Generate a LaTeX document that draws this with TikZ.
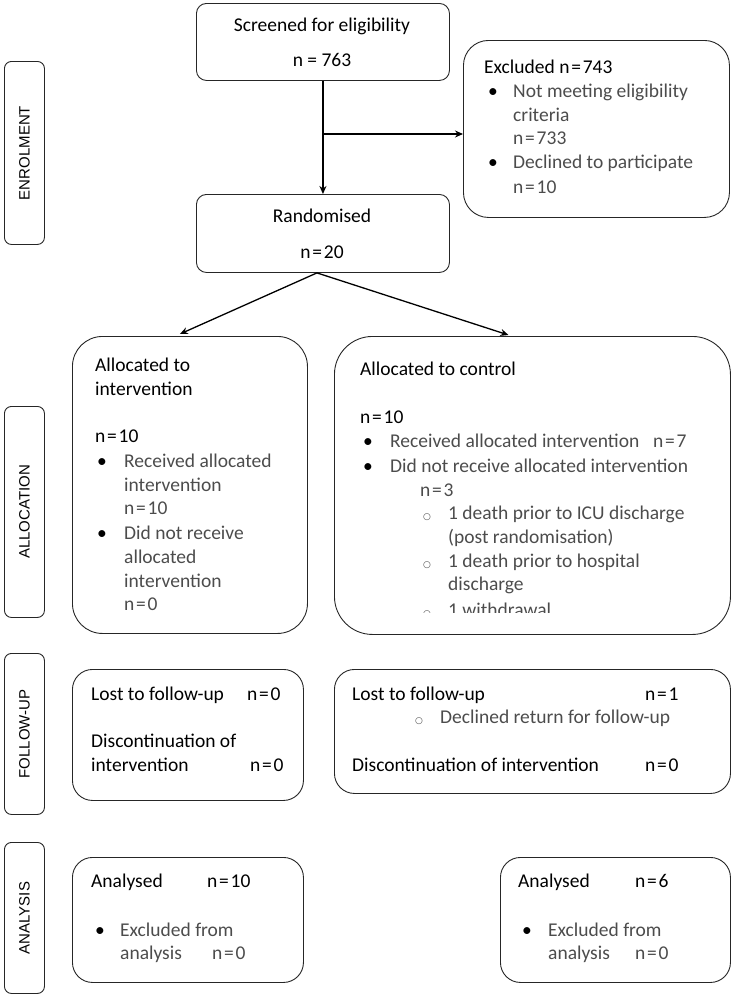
\documentclass[tikz,border=0pt]{standalone}
\usepackage{fontspec}
\setmainfont{Carlito}
\newfontfamily\lblfont{Liberation Sans}
\newfontfamily\symfont{DejaVu Sans}
\newcommand\myeq{\kern1.8pt=\kern1.8pt}
\usetikzlibrary{arrows.meta,calc}
\begin{document}
\begin{tikzpicture}[x=1pt,y=-1pt,
 box/.style={draw=black!85, line width=0.9pt, inner sep=0pt, anchor=north west},
 side/.style={box, rounded corners=7pt, minimum width=40pt},
 hd/.style={anchor=base west, inner sep=0pt, font=\fontsize{19.5}{22}\selectfont, text=black},
 hdc/.style={hd, anchor=base},
 tx/.style={anchor=base west, inner sep=0pt, font=\fontsize{19.5}{22}\selectfont, text=black!70},
 bul/.style={anchor=base west, inner sep=0pt, font=\fontsize{19.5}{22}\selectfont, text=black},
 circ/.style={anchor=base west, inner sep=0pt, font=\symfont\fontsize{9}{10}\selectfont, text=black!70},
 arr/.style={-{Stealth[length=8pt,width=7pt]}, line width=1.3pt},
 sidetext/.style={font=\lblfont\fontsize{15}{17}\selectfont, rotate=90, inner sep=0pt}]
\useasboundingbox (0,0) rectangle (732,996);

% side labels
\node[side, minimum height=183pt] (lenr) at (4,61) {};
\node[sidetext] (tenr) at (lenr.center) {ENROLMENT};
\node[side, minimum height=211pt] (lalc) at (4,406) {};
\node[sidetext] (talc) at (lalc.center) {ALLOCATION};
\node[side, minimum height=161pt] (lfol) at (4,653) {};
\node[sidetext] (tfol) at (lfol.center) {FOLLOW-UP};
\node[side, minimum height=151pt] (lana) at (4,842) {};
\node[sidetext] (tana) at (lana.center) {ANALYSIS};

% boxes
\node[box, rounded corners=10pt, minimum width=253pt, minimum height=77pt] (scr) at (196,3) {};
\node[box, rounded corners=25pt, minimum width=266pt, minimum height=177pt] (exc) at (463,40) {};
\node[box, rounded corners=10pt, minimum width=253pt, minimum height=78pt] (rnd) at (196,194) {};
\node[box, rounded corners=30pt, minimum width=235pt, minimum height=297pt] (int) at (72,336) {};
\node[box, rounded corners=38pt, minimum width=396pt, minimum height=298pt] (ctl) at (334,336) {};
\node[box, rounded corners=20pt, minimum width=231pt, minimum height=131pt] (fl) at (72,669) {};
\node[box, rounded corners=20pt, minimum width=396pt, minimum height=124pt] (fr) at (334,669) {};
\node[box, rounded corners=20pt, minimum width=231pt, minimum height=125pt] (al) at (72,857) {};
\node[box, rounded corners=20pt, minimum width=230pt, minimum height=125pt] (ar) at (500,857) {};

% arrows
\draw[arr] (scr.south) -- (rnd.north);
\coordinate (br) at (323,134);
\draw[arr] (br) -- (exc.west |- br);
\draw[arr] ([xshift=-6pt]rnd.south) -- ([xshift=-10pt,yshift=2pt]int.north);
\draw[arr] ([xshift=-6pt]rnd.south) -- ([xshift=-24pt,yshift=1pt]ctl.north);

% screened / randomised
\node[hdc] (s1) at (322,31) {Screened for eligibility};
\node[hdc] (s2) at (322,66) {n = 763};
\node[hdc] (r1) at (322,222) {Randomised};
\node[hdc] (r2) at (322,258) {n\myeq 20};

% excluded
\node[hd] (e0) at (484,73) {Excluded n\myeq 743};
\node[bul] (eb1) at (488,97) {•};
\node[tx] (e1) at (513,97) {Not meeting eligibility};
\node[tx] (e2) at (513,121) {criteria};
\node[tx] (e3) at (513,144) {n\myeq 733};
\node[bul] (eb2) at (488,168) {•};
\node[tx] (e4) at (513,168) {Declined to participate};
\node[tx] (e5) at (513,193) {n\myeq 10};

% intervention
\node[hd] (i0) at (95,371) {Allocated to};
\node[hd] (i1) at (95,395) {intervention};
\node[hd] (i2) at (95,442) {n\myeq 10};
\node[bul] (ib1) at (97,467) {•};
\node[tx] (i3) at (124,467) {Received allocated};
\node[tx] (i4) at (124,491) {intervention};
\node[tx] (i5) at (124,514) {n\myeq 10};
\node[bul] (ib2) at (97,539) {•};
\node[tx] (i6) at (124,539) {Did not receive};
\node[tx] (i7) at (124,563) {allocated};
\node[tx] (i8) at (124,587) {intervention};
\node[tx] (i9) at (124,610) {n\myeq 0};

% control
\node[hd] (c0) at (360,375) {Allocated to control};
\node[hd] (c1) at (360,423) {n\myeq 10};
\node[bul] (cb1) at (363,447) {•};
\node[tx] (c2) at (390,447) {Received allocated intervention};
\node[tx] (c3) at (653,447) {n\myeq 7};
\node[bul] (cb2) at (363,472) {•};
\node[tx] (c4) at (390,472) {Did not receive allocated intervention};
\node[tx] (c5) at (420,496) {n\myeq 3};
\node[circ] (cc1) at (423,519) {○};
\node[tx] (c6) at (448,519) {1 death prior to ICU discharge};
\node[tx] (c7) at (448,543) {(post randomisation)};
\node[circ] (cc2) at (423,567) {○};
\node[tx] (c8) at (448,567) {1 death prior to hospital};
\node[tx] (c9) at (448,590) {discharge};
\begin{scope}
\clip (334,336) rectangle (730,612.5);
\node[circ] (cc3) at (423,616) {○};
\node[tx] (c10) at (448,616) {1 withdrawal};
\end{scope}

% follow-up
\node[hd] (f1) at (91,700) {Lost to follow-up};
\node[hd] (f2) at (247,700) {n\myeq 0};
\node[hd] (f3) at (91,747) {Discontinuation of};
\node[hd] (f4) at (91,771) {intervention};
\node[hd] (f5) at (250,771) {n\myeq 0};
\node[hd] (g1) at (352,700) {Lost to follow-up};
\node[hd] (g2) at (645,700) {n\myeq 1};
\node[circ] (gc) at (415,723) {○};
\node[tx] (g3) at (440,723) {Declined return for follow-up};
\node[hd] (g4) at (352,771) {Discontinuation of intervention};
\node[hd] (g5) at (645,771) {n\myeq 0};

% analysis
\node[hd] (a1) at (91,887) {Analysed};
\node[hd] (a2) at (207,887) {n\myeq 10};
\node[bul] (ab1) at (95,936) {•};
\node[tx] (a3) at (120,936) {Excluded from};
\node[tx] (a4) at (120,959) {analysis};
\node[tx] (a5) at (212,959) {n\myeq 0};
\node[hd] (b1) at (518,887) {Analysed};
\node[hd] (b2) at (635,887) {n\myeq 6};
\node[bul] (bb1) at (522,936) {•};
\node[tx] (b3) at (548,936) {Excluded from};
\node[tx] (b4) at (548,959) {analysis};
\node[tx] (b5) at (635,959) {n\myeq 0};
\end{tikzpicture}
\end{document}
